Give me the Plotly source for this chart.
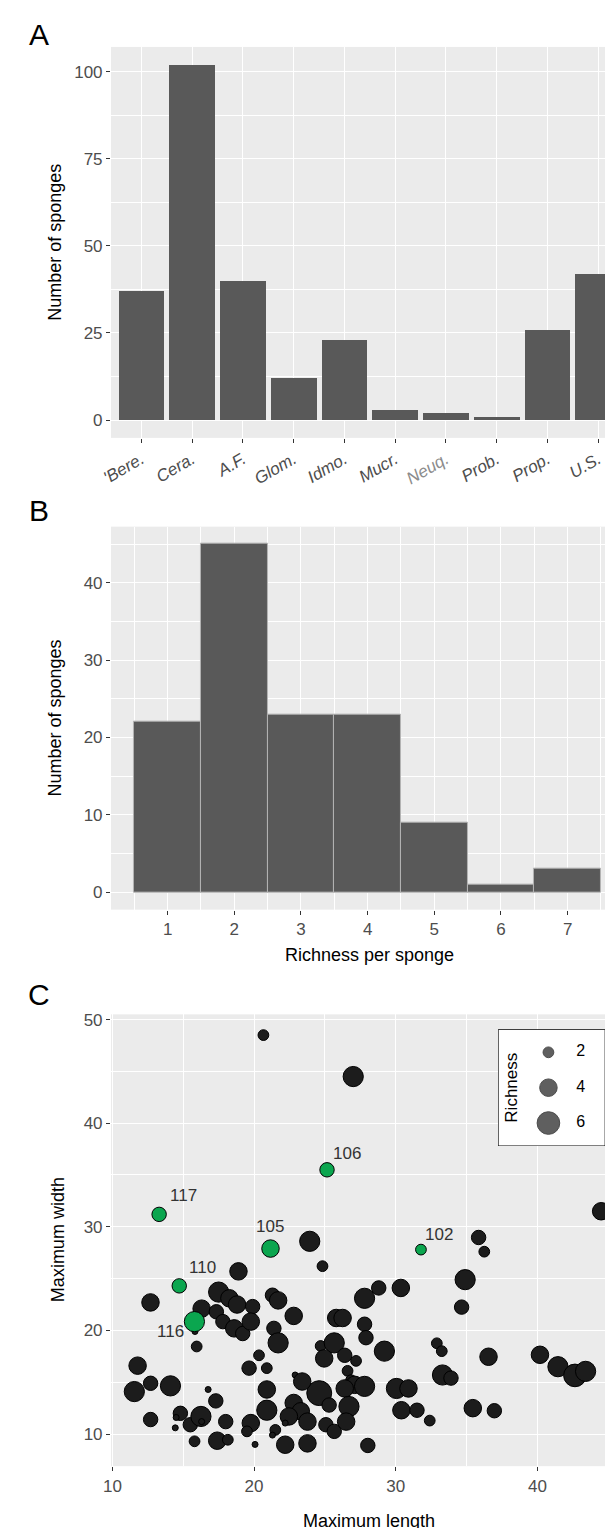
import numpy as np
import plotly.graph_objects as go

W, H = 613, 1528

# ---------------- Panel A data ----------------
genera = ["'Bere.", "Cera.", "A.F.", "Glom.", "Idmo.", "Mucr.", "Neuq.", "Prob.", "Prop.", "U.S."]
genus_counts = [37, 102, 40, 12, 23, 3, 2, 1, 26, 42]

# ---------------- Panel B data ----------------
richness_levels = [1, 2, 3, 4, 5, 6, 7]
richness_counts = [22, 45, 23, 23, 9, 1, 3]

# ---------------- Panel C data ----------------
length_black = [18.9, 12.69, 17.5, 18.26, 18.8, 16.3, 17.34, 17.8, 18.6, 19.2,
                19.9, 19.77, 21.3, 21.7, 21.4, 21.7, 15.83, 15.95, 20.35, 19.65,
                20.9, 11.78, 12.7, 11.55, 14.1, 16.76, 17.3, 20.9, 20.9, 12.7,
                14.8, 14.5, 14.44, 15.5, 16.25, 15.8, 17.4, 18.15, 18.0, 19.77,
                19.5, 20.07, 21.5, 16.3, 23.93, 24.83, 22.8, 27.8, 28.8, 30.36,
                25.8, 26.25, 27.8, 27.9, 29.2, 24.7, 25.66, 24.95, 26.4, 27.2,
                26.6, 26.85, 27.1, 27.8, 26.4, 24.6, 25.3, 26.7, 22.9, 23.4,
                22.8, 23.3, 22.46, 23.77, 22.2, 21.3, 25.07, 25.66, 26.5, 22.2,
                23.77, 28.03, 30.05, 30.9, 30.4, 31.5, 32.4, 32.9, 33.25, 33.3,
                33.9, 44.5, 35.85, 36.25, 34.9, 34.65, 36.55, 40.18, 41.45, 42.65,
                43.4, 35.44, 36.96, 20.66, 27.0]
width_black = [25.7, 22.7, 23.7, 23.1, 22.5, 22.1, 21.8, 20.85, 20.2, 19.7,
               22.3, 20.85, 23.4, 22.9, 20.2, 18.8, 19.9, 18.45, 17.6, 16.36,
               16.36, 16.6, 14.9, 14.1, 14.65, 14.3, 13.2, 14.3, 12.3, 11.4,
               12.0, 11.6, 10.6, 10.9, 11.7, 9.3, 9.36, 9.45, 11.2, 11.06,
               10.26, 9.0, 10.4, 11.2, 28.6, 26.2, 21.4, 23.1, 24.1, 24.1,
               21.2, 21.2, 20.6, 19.3, 18.0, 18.5, 18.8, 17.3, 17.6, 17.06,
               16.1, 15.2, 14.75, 14.6, 14.4, 13.95, 12.8, 12.66, 15.7, 15.07,
               13.0, 12.2, 11.7, 11.2, 11.06, 9.9, 10.9, 10.26, 11.2, 8.97,
               9.1, 8.9, 14.4, 14.4, 12.3, 12.3, 11.3, 18.76, 18.0, 15.7,
               15.4, 31.5, 28.97, 27.6, 24.9, 22.25, 17.46, 17.65, 16.5, 15.66,
               16.05, 12.5, 12.25, 48.5, 44.5]
rich_black = [4, 4, 5, 4, 4, 4, 3, 3, 4, 3,
              3, 4, 3, 4, 3, 5, 1, 2, 2, 3,
              2, 4, 3, 5, 5, 1, 3, 4, 5, 3,
              3, 1, 1, 3, 5, 2, 4, 2, 3, 4,
              2, 1, 2, 1, 5, 2, 4, 5, 3, 4,
              4, 4, 3, 3, 5, 2, 5, 4, 3, 2,
              2, 2, 4, 5, 4, 7, 3, 5, 1, 4,
              4, 4, 4, 4, 1, 1, 3, 3, 4, 4,
              4, 3, 5, 4, 4, 3, 2, 2, 2, 5,
              3, 4, 3, 2, 5, 3, 4, 4, 5, 6,
              5, 4, 3, 2, 5]

green_ids = ["117", "110", "105", "116", "106", "102"]
length_green = [13.3, 14.72, 21.16, 15.79, 25.15, 31.78]
width_green = [31.2, 24.3, 27.9, 20.85, 35.5, 27.8]
rich_green = [3, 3, 4, 5, 3, 2]
# label offsets in pixels (style)
label_dx = [24, 23, 0, -24, 20, 18]
label_dy = [19, 18, 22, -10, 16, 15]

legend_breaks = [2, 4, 6]


def size_px(r):
    # area-type size scale (style)
    return 11.5 * np.sqrt(np.asarray(r, dtype=float)) - 5.5


def fx(p):
    return p / W


def fy(p):
    return 1 - p / H


FONT = "Liberation Sans, Arial, Helvetica, sans-serif"
TICKC = "#4D4D4D"
BG = "#EBEBEB"
BAR = "#595959"

fig = go.Figure()

# Panel A
fig.add_trace(go.Bar(x=genera, y=genus_counts, width=0.9, marker=dict(color=BAR, line=dict(width=0)),
                     xaxis="x", yaxis="y", showlegend=False, hoverinfo="skip"))
# Panel B
fig.add_trace(go.Bar(x=richness_levels, y=richness_counts, width=1.0,
                     marker=dict(color=BAR, line=dict(color="#B3B3B3", width=1)),
                     xaxis="x2", yaxis="y2", showlegend=False, hoverinfo="skip"))
# Panel C
fig.add_trace(go.Scatter(x=length_black, y=width_black, mode="markers",
                         marker=dict(size=size_px(rich_black), color="#1C1C1C",
                                     line=dict(color="#000000", width=1), opacity=1),
                         xaxis="x3", yaxis="y3", showlegend=False, hoverinfo="skip"))
fig.add_trace(go.Scatter(x=length_green, y=width_green, mode="markers",
                         marker=dict(size=size_px(rich_green), color="#0BA64F",
                                     line=dict(color="#000000", width=1), opacity=1),
                         xaxis="x3", yaxis="y3", showlegend=False, hoverinfo="skip"))
# size legend: white box then keys
LX0, LX1, LY0, LY1 = 0.0, 1.0, 0.7, 7.3
fig.add_trace(go.Scatter(x=[LX0, LX1, LX1, LX0, LX0], y=[LY0, LY0, LY1, LY1, LY0], mode="lines",
                         fill="toself", fillcolor="white", line=dict(color="#000000", width=1.2),
                         xaxis="x4", yaxis="y4", showlegend=False, hoverinfo="skip"))
fig.add_trace(go.Scatter(x=[0.47] * len(legend_breaks), y=legend_breaks, mode="markers",
                         marker=dict(size=size_px(legend_breaks), color="#1C1C1C",
                                     line=dict(color="#000000", width=1)),
                         xaxis="x4", yaxis="y4", showlegend=False, hoverinfo="skip"))
fig.add_trace(go.Scatter(x=[0.77] * len(legend_breaks), y=legend_breaks, mode="text",
                         text=[str(b) for b in legend_breaks], textposition="middle center",
                         textfont=dict(family=FONT, size=16, color="#000000"),
                         xaxis="x4", yaxis="y4", showlegend=False, hoverinfo="skip"))

grid = dict(showgrid=True, gridcolor="white", gridwidth=1.1, zeroline=False, showline=False,
            ticks="outside", ticklen=4, tickwidth=1, tickcolor="#333333",
            tickfont=dict(family=FONT, size=17, color=TICKC))


def minor(vals):
    return dict(tickvals=vals, showgrid=True, gridcolor="white", gridwidth=0.5, ticks="")


xdom = [fx(94.5), 1.0]
ticktext_a = []
for g in genera:
    if g == "Neuq.":
        ticktext_a.append('<i><span style="color:#8C8C8C">' + g + '</span></i>')
    else:
        ticktext_a.append('<i>' + g + '</i>')

layout = dict(
    width=W, height=H, margin=dict(l=0, r=0, t=0, b=0),
    paper_bgcolor="white", plot_bgcolor=BG, font=dict(family=FONT),
    xaxis=dict(domain=xdom, anchor="y", type="category", range=[-0.6, 9.45],
               tickvals=genera, ticktext=ticktext_a, tickangle=-30, **grid),
    yaxis=dict(domain=[fy(427), fy(35)], anchor="x", range=[-5.1, 107.1],
               tickvals=[0, 25, 50, 75, 100], minor=minor([12.5, 37.5, 62.5, 87.5]), **grid),
    xaxis2=dict(domain=xdom, anchor="y2", range=[0.15, 7.80], tickvals=richness_levels,
                minor=minor([0.5, 1.5, 2.5, 3.5, 4.5, 5.5, 6.5, 7.5]), **grid),
    yaxis2=dict(domain=[fy(900), fy(516)], anchor="x2", range=[-2.25, 47.25],
                tickvals=[0, 10, 20, 30, 40], minor=minor([5, 15, 25, 35, 45]), **grid),
    xaxis3=dict(domain=xdom, anchor="y3", range=[9.9, 45.9], tickvals=[10, 20, 30, 40],
                minor=minor([15, 25, 35, 45]), **grid),
    yaxis3=dict(domain=[fy(1458), fy(1005)], anchor="x3", range=[6.9, 50.5],
                tickvals=[10, 20, 30, 40, 50], minor=minor([15, 25, 35, 45]), **grid),
    xaxis4=dict(domain=[fx(488), fx(597)], anchor="y4", range=[LX0, LX1], showgrid=False,
                zeroline=False, showticklabels=False, ticks="", showline=False, fixedrange=True),
    yaxis4=dict(domain=[fy(1137), fy(1020)], anchor="x4", range=[LY1, LY0], showgrid=False,
                zeroline=False, showticklabels=False, ticks="", showline=False, fixedrange=True),
    bargap=0,
)
fig.update_layout(**layout)

ann = []
for lab, xx, yy in [("A", 21, 23), ("B", 21, 500), ("C", 21, 985)]:
    ann.append(dict(text=lab, x=fx(xx), y=fy(yy), xref="paper", yref="paper", showarrow=False,
                    font=dict(family=FONT, size=30, color="#000000"), xanchor="center", yanchor="middle"))
for txt, xx, yy, ang in [("Number of sponges", 38, 231, -90), ("Number of sponges", 38, 708, -90),
                         ("Richness per sponge", 357, 945, 0), ("Maximum width", 40, 1231, -90),
                         ("Maximum length", 357, 1513, 0)]:
    ann.append(dict(text=txt, x=fx(xx), y=fy(yy), xref="paper", yref="paper", showarrow=False,
                    textangle=ang, font=dict(family=FONT, size=18, color="#000000"),
                    xanchor="center", yanchor="middle"))
ann.append(dict(text="Richness", x=0.13, y=0.5, xref="x4 domain", yref="y4 domain", showarrow=False,
                textangle=-90, font=dict(family=FONT, size=17, color="#000000"),
                xanchor="center", yanchor="middle"))
for gid, gx, gy, dx, dy in zip(green_ids, length_green, width_green, label_dx, label_dy):
    ann.append(dict(text=gid, x=gx, y=gy, xref="x3", yref="y3", showarrow=False,
                    xshift=dx, yshift=dy, font=dict(family=FONT, size=17, color="#333333"),
                    xanchor="center", yanchor="middle"))
fig.update_layout(annotations=ann)

fig.write_html("out.html")
